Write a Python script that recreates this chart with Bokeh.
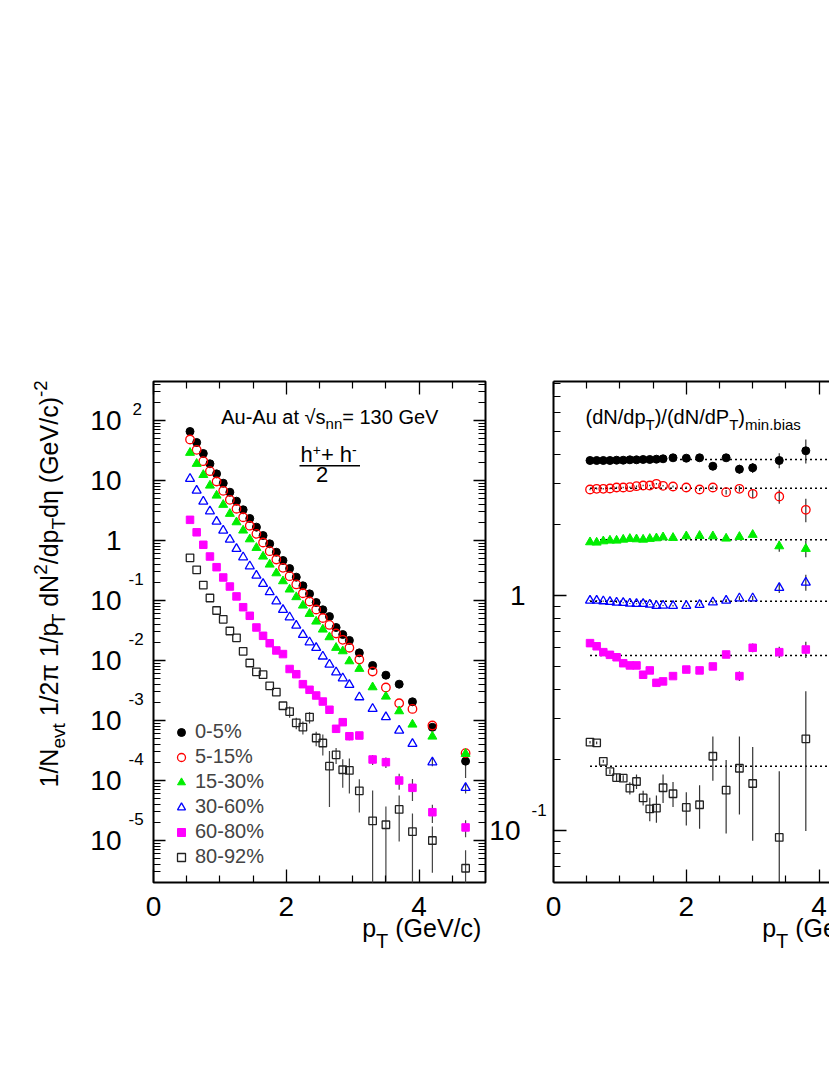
import numpy as np
from bokeh.plotting import figure
from bokeh.models import (Label, Legend, LegendItem, FixedTicker, LinearAxis, LogAxis,
                          BoxAnnotation, Range1d, CustomJSTickFormatter)
from bokeh.layouts import row, column
from bokeh.embed import file_html
from bokeh.resources import INLINE

FONT = "Liberation Sans"

# ---------------- data: left panel (spectra) ----------------
pt_spec = [0.55, 0.65, 0.75, 0.85, 0.95, 1.05, 1.15, 1.25, 1.35, 1.45, 1.55, 1.65,
           1.75, 1.85, 1.95, 2.05, 2.15, 2.25, 2.35, 2.45, 2.55, 2.65, 2.75, 2.85,
           2.95, 3.1, 3.3, 3.5, 3.7, 3.9, 4.2, 4.7]
spec_0_5 = [65.6, 43.0, 28.2, 19.0, 12.9, 9.02, 6.38, 4.52, 3.25, 2.33, 1.67, 1.21,
            0.881, 0.638, 0.464, 0.341, 0.245, 0.176, 0.129, 0.0926, 0.070, 0.054,
            0.0355, 0.0271, 0.0216, 0.0134, 0.00826, 0.00569, 0.00403, 0.00205,
            0.00077, 0.00021]
spec_5_15 = [48.2, 32.5, 21.0, 14.3, 9.62, 6.73, 4.77, 3.38, 2.44, 1.76, 1.29, 0.926,
             0.664, 0.482, 0.351, 0.254, 0.185, 0.132, 0.0963, 0.0708, 0.0511, 0.0391,
             0.0282, 0.0221, 0.0163, 0.0104, 0.00656, 0.00355, 0.00194, 0.00156,
             0.000826, 0.000285]
spec_15_30 = [29.0, 19.0, 12.4, 8.25, 5.62, 3.94, 2.79, 2.02, 1.47, 1.05, 0.755, 0.541,
              0.398, 0.285, 0.210, 0.153, 0.114, 0.0826, 0.060, 0.0447, 0.0329, 0.0245,
              0.0163, 0.0143, 0.00973, 0.00728, 0.00359, 0.00251, 0.00143, 0.000858,
              0.000541, 0.000279]
spec_30_60 = [10.7, 6.81, 4.47, 3.08, 2.07, 1.47, 1.04, 0.727, 0.527, 0.373, 0.261, 0.190,
              0.138, 0.0973, 0.070, 0.0527, 0.0383, 0.0268, 0.0202, 0.0163, 0.0117,
              0.00858, 0.00638, 0.00507, 0.00394, 0.00245, 0.00157, 0.00114, 0.000681,
              0.000409, 0.000202, 0.0000755]
spec_60_80 = [2.21, 1.37, 0.848, 0.541, 0.359, 0.242, 0.171, 0.117, 0.0773, 0.0556, 0.0355,
              0.0258, 0.0194, 0.0147, 0.0128, 0.00722, 0.00591, 0.00403, 0.00325, 0.00261,
              0.00207, 0.00151, 0.000727, 0.000937, 0.000547, 0.000562, 0.000224,
              0.000202, 0.0001, 0.0000755, 0.0000296, 0.0000165]
spec_80_92 = [0.515, 0.325, 0.181, 0.110, 0.0681, 0.0486, 0.031, 0.0239, 0.0142, 0.00908,
              0.00648, 0.0058, 0.00379, 0.00296, 0.00176, 0.00141, 0.000916, 0.000773,
              0.00114, 0.000511, 0.000422, 0.000173, 0.000268, 0.000151, 0.000147,
              0.0000673, 0.0000213, 0.0000183, 0.0000329, 0.0000141, 0.0000100, 0.00000345]

err_0_5 = [0]*30 + [0.00008, 0.0001]
err_5_15 = [0]*31 + [0.00003]
err_15_30 = [0]*31 + [0.00003]
err_30_60 = [0]*30 + [0.00003, 0.000015]
err_60_80 = [0]*22 + [0.00011, 0.00012, 0.00008, 0.00006, 0.000043, 0.00004, 0.00003,
                      0.00003, 0.00001, 0.0000052]
err_80_92 = [0]*15 + [0.0003, 0.0002, 0.00019, 0.00025, 0.00014, 0.00016, 0.000137,
                      0.00008, 0.000075, 0.000086, 0.000038, 0.000047, 0.0000186,
                      0.0000233, 0.0000141, 0.0000071, 0.0000034]

# ---------------- data: right panel (ratios to min. bias) ----------------
pt_ratio = [0.55, 0.65, 0.75, 0.85, 0.95, 1.05, 1.15, 1.25, 1.35, 1.45, 1.55, 1.65,
            1.8, 2.0, 2.2, 2.4, 2.6, 2.8, 3.0, 3.4, 3.8]
ratio_0_5 = [3.754, 3.754, 3.754, 3.754, 3.764, 3.764, 3.779, 3.779, 3.791, 3.791, 3.802,
             3.817, 3.854, 3.840, 3.854, 3.549, 3.854, 3.446, 3.494, 3.754, 4.128]
ratio_5_15 = [2.825, 2.845, 2.845, 2.853, 2.881, 2.881, 2.890, 2.918, 2.938, 2.938, 2.988,
              2.930, 2.910, 2.881, 2.825, 2.881, 2.752, 2.845, 2.708, 2.638, 2.316]
ratio_15_30 = [1.686, 1.681, 1.702, 1.714, 1.714, 1.730, 1.743, 1.736, 1.730, 1.743, 1.753,
               1.770, 1.760, 1.788, 1.795, 1.788, 1.748, 1.777, 1.813, 1.621, 1.580]
ratio_30_60 = [0.952, 0.952, 0.946, 0.940, 0.934, 0.931, 0.925, 0.922, 0.922, 0.916, 0.904,
               0.907, 0.904, 0.904, 0.913, 0.936, 0.952, 0.974, 0.974, 1.078, 1.136]
ratio_60_80 = [0.627, 0.608, 0.574, 0.559, 0.546, 0.515, 0.504, 0.504, 0.460, 0.480, 0.425,
               0.431, 0.454, 0.484, 0.480, 0.499, 0.561, 0.454, 0.599, 0.574, 0.589]
ratio_80_92 = [0.2375, 0.236, 0.197, 0.178, 0.168, 0.167, 0.1514, 0.1616, 0.1377, 0.1237,
               0.1244, 0.152, 0.1433, 0.1253, 0.1287, 0.207, 0.1484, 0.184, 0.1585,
               0.0934, 0.2456]

rerr_0_5 = [0.02]*12 + [0.03, 0.04, 0.05, 0.139, 0.10, 0.152, 0.171, 0.276, 0.485]
rerr_5_15 = [0.02]*12 + [0.03, 0.03, 0.04, 0.05, 0.06, 0.08, 0.106, 0.181, 0.265]
rerr_15_30 = [0.01]*12 + [0.015, 0.02, 0.02, 0.025, 0.03, 0.035, 0.04, 0.087, 0.124]
rerr_30_60 = [0.005]*12 + [0.007, 0.008, 0.01, 0.012, 0.015, 0.018, 0.02, 0.053, 0.089]
rerr_60_80 = [0.003]*12 + [0.005, 0.007, 0.0094, 0.0132, 0.0176, 0.0209, 0.0252, 0.0315,
                           0.0473]
rerr_80_92 = [0.003, 0.003, 0.003, 0.004, 0.0065, 0.005, 0.0092, 0.0115, 0.0098, 0.0141,
              0.0164, 0.0211, 0.0174, 0.0203, 0.027, 0.044, 0.0513, 0.067, 0.068, 0.0855,
              0.146]

ref_levels = [3.79, 2.862, 1.726, 0.946, 0.555, 0.1877]
ref_pt_start = 0.55
ref_pt_end = 5.0

labels = ["0-5%", "5-15%", "15-30%", "30-60%", "60-80%", "80-92%"]
x_major = [0, 2, 4]
x_minor = [0.5, 1, 1.5, 2.5, 3, 3.5, 4.5]

# ---------------- styles ----------------
styles = [
    dict(marker="circle", size=8, fill_color="black", line_color="black"),
    dict(marker="circle", size=8.5, fill_color=None, line_color="#ff0000", line_width=1.3),
    dict(marker="triangle", size=9, fill_color="#00ee00", line_color="#00ee00"),
    dict(marker="triangle", size=9, fill_color=None, line_color="#0000ff", line_width=1.3),
    dict(marker="square", size=7.5, fill_color="#ff00ff", line_color="#ff00ff"),
    dict(marker="square", size=7.5, fill_color=None, line_color="#222222", line_width=1.3),
]

# ---------------- page geometry (pixels) ----------------
L_LEFT, L_RIGHT, TOP, BOTTOM = 153, 485, 381, 882
R_LEFT, R_RIGHT = 553, 829
PAD = 3
ROW_H = BOTTOM + PAD
BOT_H = 75
PX_PER_UNIT = 66.4
L_LOG_TOP = 2.65
L_PX_DEC = 60.0
R_LOG_TOP = 0.9106
R_PX_DEC = 235.0
L_LOG_BOT = L_LOG_TOP - (BOTTOM - TOP) / L_PX_DEC
R_LOG_BOT = R_LOG_TOP - (BOTTOM - TOP) / R_PX_DEC
MID = 0.3465   # baseline -> middle of em box, in em


def lx(px): return (px - L_LEFT) / PX_PER_UNIT
def ly(py): return 10 ** (L_LOG_TOP - (py - TOP) / L_PX_DEC)
def rx(px): return (px - R_LEFT) / PX_PER_UNIT
def ry(py): return 10 ** (R_LOG_TOP - (py - TOP) / R_PX_DEC)
def ident(v): return v


W = {' ': 278, '%': 889, '(': 333, ')': 333, '+': 584, '-': 333, '.': 278, '/': 278,
     '=': 584, 'A': 667, 'G': 778, 'N': 722, 'P': 667, 'T': 611, 'V': 667, 'a': 556,
     'b': 556, 'c': 500, 'd': 556, 'e': 556, 'h': 556, 'i': 222, 'm': 833, 'n': 556,
     'p': 556, 's': 500, 't': 278, 'u': 556, 'v': 500, 'π': 580, 'η': 556, '√': 549}


def tw(s, size):
    return sum(W.get(c, 556) for c in s) * size / 1000.0


def rich(p, fx, fy, x0, y0, pieces, angle=0.0):
    pos = 0.0
    for txt, size, shift in pieces:
        lead = len(txt) - len(txt.lstrip(' '))
        pos += lead * W[' '] * size / 1000.0
        core = txt.strip(' ')
        if angle == 0:
            x, y = x0 + pos, y0 - shift - MID * size
        else:
            x, y = x0 - shift - MID * size, y0 - pos
        p.add_layout(Label(x=float(fx(x)), y=float(fy(y)), text=core, text_font=FONT,
                           text_font_size=f"{int(size)}px", text_align="left",
                           text_baseline="middle", angle=float(angle),
                           text_color="black"))
        pos += tw(core, size)
        trail = len(txt) - lead - len(core)
        pos += max(trail, 0) * W[' '] * size / 1000.0


def label(p, fx, fy, x, y, txt, size, align="left"):
    p.add_layout(Label(x=float(fx(x)), y=float(fy(y - MID * size)), text=txt,
                       text_font=FONT, text_font_size=f"{int(size)}px", text_align=align,
                       text_baseline="middle", text_color="black"))


log_major = [10.0 ** n for n in range(-7, 3)]
log_minor = [k * 10.0 ** n for n in range(-7, 3) for k in range(2, 10)]


def style_axis(ax, major_len, minor_len, line=False):
    ax.major_tick_in = major_len
    ax.major_tick_out = 0
    ax.minor_tick_in = minor_len
    ax.minor_tick_out = 0
    ax.major_tick_line_width = 1.3
    ax.minor_tick_line_width = 1.2
    ax.major_tick_line_color = "black"
    ax.minor_tick_line_color = "black"
    if line:
        ax.axis_line_width = 2
        ax.axis_line_color = "black"
    else:
        ax.axis_line_color = None
    ax.formatter = CustomJSTickFormatter(code="return ''")
    ax.major_label_text_font_size = "1px"
    ax.major_label_standoff = 0


def make_fig(x_end, ylo, yhi, right_border):
    p = figure(frame_width=int(round(x_end * PX_PER_UNIT)), frame_height=BOTTOM - TOP,
               x_range=Range1d(0, x_end), y_range=Range1d(ylo, yhi), y_axis_type="log",
               output_backend="svg", toolbar_location=None,
               min_border_left=PAD, min_border_right=right_border,
               min_border_top=TOP, min_border_bottom=PAD)
    p.xgrid.visible = False
    p.ygrid.visible = False
    p.background_fill_color = "white"
    p.border_fill_color = "white"
    return p


def text_fig(x0, x1, y0, y1, top_border=0, bottom_border=0):
    """A blank canvas whose data coordinates are page pixels (y downwards)."""
    f = figure(frame_width=int(x1 - x0), frame_height=int(y1 - y0),
               x_range=Range1d(x0, x1), y_range=Range1d(y1, y0),
               x_axis_type=None, y_axis_type=None, output_backend="svg",
               toolbar_location=None, min_border_left=0, min_border_right=0,
               min_border_top=top_border, min_border_bottom=bottom_border)
    f.outline_line_color = None
    f.grid.visible = False
    f.background_fill_color = "white"
    f.border_fill_color = "white"
    return f


# ================= left panel =================
p1 = make_fig(5.0, 10 ** L_LOG_BOT, 10 ** L_LOG_TOP, PAD)
p1.outline_line_color = "black"
p1.outline_line_width = 2

p1.xaxis.ticker = FixedTicker(ticks=x_major, minor_ticks=x_minor)
style_axis(p1.xaxis[0], 13, 7)
p1.yaxis.ticker = FixedTicker(ticks=log_major, minor_ticks=log_minor)
style_axis(p1.yaxis[0], 12, 7)
top1 = LinearAxis(ticker=FixedTicker(ticks=x_major, minor_ticks=x_minor))
style_axis(top1, 13, 7)
p1.add_layout(top1, "above")
right1 = LogAxis(ticker=FixedTicker(ticks=log_major, minor_ticks=log_minor))
style_axis(right1, 12, 7)
p1.add_layout(right1, "right")

spec_series = [spec_0_5, spec_5_15, spec_15_30, spec_30_60, spec_60_80, spec_80_92]
spec_errs = [err_0_5, err_5_15, err_15_30, err_30_60, err_60_80, err_80_92]
pt_s = np.array(pt_spec)
for yv, ev in zip(spec_series[::-1], spec_errs[::-1]):
    yv = np.array(yv); ev = np.array(ev, dtype=float)
    lo = np.where(yv - ev > 0, yv - ev, 1e-12)
    p1.segment(x0=pt_s, x1=pt_s, y0=lo, y1=yv + ev, line_color="#444444", line_width=1.2)

leg_items = []
for lab, yv, st in zip(labels, spec_series, styles):
    r = p1.scatter(pt_s, np.array(yv), **st)
    leg_items.append(LegendItem(label=lab, renderers=[r]))

legend = Legend(items=leg_items, location=(18, 14), label_text_font=FONT,
                label_text_font_size="20px", glyph_width=20, glyph_height=20,
                label_height=20, label_standoff=4, spacing=2, padding=0, margin=0,
                border_line_color=None, background_fill_alpha=0)
p1.add_layout(legend)

rich(p1, lx, ly, 220.7, 423.3, [("Au-Au at √s", 20, 0), ("nn", 15, -5),
                                 ("= 130 GeV", 20, 0)])
rich(p1, lx, ly, 300, 462, [("h", 22, 0), ("+", 14, 8), ("+ h", 22, 0), ("-", 14, 8)])
p1.add_layout(BoxAnnotation(left=lx(299), right=lx(359.5), bottom=ly(466), top=ly(464.5),
                            fill_color="black", fill_alpha=1, line_color=None))
label(p1, lx, ly, 321.5, 482, "2", 22, align="center")

# ================= right panel =================
R_X_END = (R_RIGHT - R_LEFT) / PX_PER_UNIT
p2 = make_fig(R_X_END, 10 ** R_LOG_BOT, 10 ** R_LOG_TOP, 0)
p2.outline_line_color = None
p2.xaxis.ticker = FixedTicker(ticks=x_major, minor_ticks=x_minor)
style_axis(p2.xaxis[0], 13, 7, line=True)
p2.yaxis.ticker = FixedTicker(ticks=log_major, minor_ticks=log_minor)
style_axis(p2.yaxis[0], 13, 7, line=True)
top2 = LinearAxis(ticker=FixedTicker(ticks=x_major, minor_ticks=x_minor))
style_axis(top2, 13, 7, line=True)
p2.add_layout(top2, "above")

p2.segment(x0=[ref_pt_start] * len(ref_levels), x1=[ref_pt_end] * len(ref_levels),
           y0=ref_levels, y1=ref_levels, line_color="black", line_width=1.5,
           line_dash="2 3")

ratio_series = [ratio_0_5, ratio_5_15, ratio_15_30, ratio_30_60, ratio_60_80, ratio_80_92]
ratio_errs = [rerr_0_5, rerr_5_15, rerr_15_30, rerr_30_60, rerr_60_80, rerr_80_92]
pt_r = np.array(pt_ratio)
for yv, ev in zip(ratio_series, ratio_errs):
    yv = np.array(yv); ev = np.array(ev, dtype=float)
    lo = np.where(yv - ev > 0, yv - ev, 1e-9)
    p2.segment(x0=pt_r, x1=pt_r, y0=lo, y1=yv + ev, line_color="#333333", line_width=1.2)
for yv, st in zip(ratio_series, styles):
    p2.scatter(pt_r, np.array(yv), **st)

rich(p2, rx, ry, 585, 423.3, [("(dN/dp", 20, 0), ("T", 15, -6), (")/(dN/dP", 20, 0),
                               ("T", 15, -6), (")", 20, 0), ("min.bias", 15, -6)])

# ================= text strips around the frames =================
# (frames of plots in a row are aligned, so these strips share the panels' frame rows)
fl = text_fig(0, L_LEFT - PAD, TOP, BOTTOM, top_border=TOP, bottom_border=PAD)
for n in range(2, -6, -1):
    tick_py = TOP + (L_LOG_TOP - n) * L_PX_DEC
    if n == 0:
        label(fl, ident, ident, 121, tick_py + 10, "1", 28, align="right")
    else:
        label(fl, ident, ident, 121, tick_py + 10, "10", 28, align="right")
        if n > 1:
            label(fl, ident, ident, 132, tick_py - 6, str(n), 17)
        elif n < 0:
            label(fl, ident, ident, 128, tick_py - 16, str(n), 17)
rich(fl, ident, ident, 57.5, 787,
     [("1/N", 25, 0), ("evt", 19, -7), (" 1/2π 1/p", 25, 0), ("T", 19, -7),
      (" dN", 25, 0), ("2", 19, 11), ("/dp", 25, 0), ("T", 19, -7),
      ("dη (GeV/c)", 25, 0), ("-2", 19, 11)], angle=np.pi / 2)

fm = text_fig(L_RIGHT + PAD, R_LEFT - PAD, TOP, BOTTOM, top_border=TOP, bottom_border=PAD)
ratio_tick_py = {0: TOP + R_LOG_TOP * R_PX_DEC, -1: TOP + (R_LOG_TOP + 1) * R_PX_DEC}
label(fm, ident, ident, 525, ratio_tick_py[0] + 10, "1", 28, align="right")
label(fm, ident, ident, 520, ratio_tick_py[-1] + 10, "10", 28, align="right")
label(fm, ident, ident, 531, ratio_tick_py[-1] - 15, "-1", 17)

fb = text_fig(0, R_RIGHT, ROW_H, ROW_H + BOT_H)     # below both panels
for t in x_major:
    label(fb, ident, ident, L_LEFT + t * PX_PER_UNIT, 916, str(t), 28, align="center")
    label(fb, ident, ident, R_LEFT + t * PX_PER_UNIT, 916, str(t), 28, align="center")
rich(fb, ident, ident, 361.7, 936.5, [("p", 25, 0), ("T", 20, -11), (" (GeV/c)", 25, 0)])
rich(fb, ident, ident, 761.7, 936.5, [("p", 25, 0), ("T", 20, -11), (" (GeV/c)", 25, 0)])

layout = column(row(fl, p1, fm, p2), fb)
open("out.html", "w").write(file_html(layout, INLINE))
